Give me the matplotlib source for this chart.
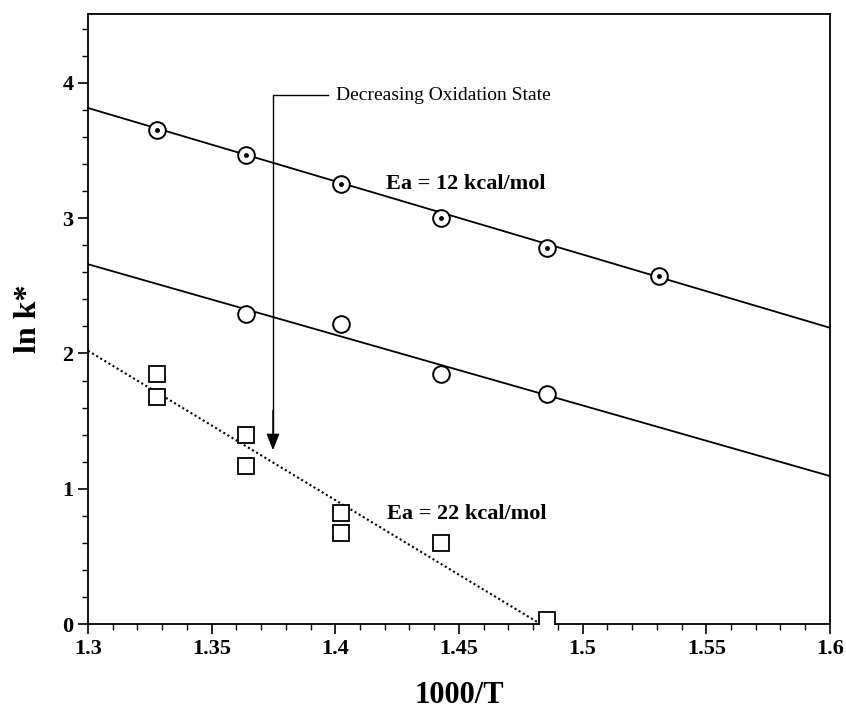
import numpy as np
import matplotlib
matplotlib.use("Agg")
import matplotlib.pyplot as plt
from matplotlib.ticker import MultipleLocator

plt.rcParams['font.family'] = ['Liberation Serif', 'DejaVu Serif']

# 1000/T values (K^-1 x 1000)
x_top = [1.3278, 1.3640, 1.4022, 1.4427, 1.4856, 1.5310]
y_top = [3.65, 3.47, 3.25, 3.00, 2.78, 2.57]

x_mid = [1.3640, 1.4022, 1.4427, 1.4856]
y_mid = [2.29, 2.22, 1.85, 1.70]

x_sq = [1.3278, 1.3278, 1.3640, 1.3640, 1.4022, 1.4022, 1.4427, 1.4856]
y_sq = [1.85, 1.68, 1.40, 1.17, 0.82, 0.67, 0.60, 0.03]

# fitted Arrhenius lines (end points)
fit_top_x = [1.30, 1.60]
fit_top_y = [3.815, 2.19]
fit_mid_x = [1.30, 1.60]
fit_mid_y = [2.66, 1.094]
fit_sq_x = [1.30, 1.483]
fit_sq_y = [2.02, 0.0]

x_ticks = [1.3, 1.35, 1.4, 1.45, 1.5, 1.55, 1.6]
x_tick_labels = ["1.3", "1.35", "1.4", "1.45", "1.5", "1.55", "1.6"]
y_ticks = [0, 1, 2, 3, 4]

fig = plt.figure(figsize=(8.46, 7.13), dpi=100)
ax = fig.add_axes([0.104, 0.1248, 0.877, 0.8556])

lw = 1.3
ax.plot(fit_top_x, fit_top_y, color='black', lw=lw)
ax.plot(fit_mid_x, fit_mid_y, color='black', lw=lw)
ax.plot(fit_sq_x, fit_sq_y, color='black', lw=1.5, linestyle=(0, (1, 1.3)))

ms = 12
ax.plot(x_top, y_top, linestyle='none', marker='o', ms=ms, mfc='white',
        mec='black', mew=1.4, zorder=3)
ax.plot(x_top, y_top, linestyle='none', marker='o', ms=2.5, mfc='black',
        mec='black', zorder=4)
ax.plot(x_mid, y_mid, linestyle='none', marker='o', ms=ms, mfc='white',
        mec='black', mew=1.4, zorder=3)
ax.plot(x_sq, y_sq, linestyle='none', marker='s', ms=11, mfc='white',
        mec='black', mew=1.3, zorder=3)

# annotation bracket with arrow
arrow_x = 1.3748
ax.plot([arrow_x, arrow_x, 1.397], [1.33, 3.91, 3.91], color='black', lw=1.0)
ax.annotate('', xy=(arrow_x, 1.265), xytext=(arrow_x, 1.6),
            arrowprops=dict(arrowstyle='-|>,head_width=0.4,head_length=1.0',
                            color='black', lw=1.0))
ax.text(1.4003, 3.91, 'Decreasing Oxidation State', fontsize=14,
        ha='left', va='center')

ax.text(1.4205, 3.25, 'Ea = 12 kcal/mol', fontsize=16, fontweight='bold',
        ha='left', va='center')
ax.text(1.421, 0.81, 'Ea = 22 kcal/mol', fontsize=16, fontweight='bold',
        ha='left', va='center')

ax.set_xlim(1.3, 1.6)
ax.set_ylim(0, 4.51)
ax.set_xticks(x_ticks)
ax.set_xticklabels(x_tick_labels)
ax.set_yticks(y_ticks)
ax.xaxis.set_minor_locator(MultipleLocator(0.01))
ax.yaxis.set_minor_locator(MultipleLocator(0.2))
ax.tick_params(which='major', direction='out', length=7, width=1.2,
               labelsize=16)
ax.tick_params(which='minor', direction='out', length=4, width=1.0)
for lab in ax.get_xticklabels() + ax.get_yticklabels():
    lab.set_fontweight('bold')
for sp in ax.spines.values():
    sp.set_linewidth(1.3)

ax.set_xlabel('1000/T', fontsize=22, fontweight='bold', labelpad=16)
ax.set_ylabel('ln k*', fontsize=23, fontweight='bold', labelpad=14)

fig.savefig('out.png', dpi=100)
